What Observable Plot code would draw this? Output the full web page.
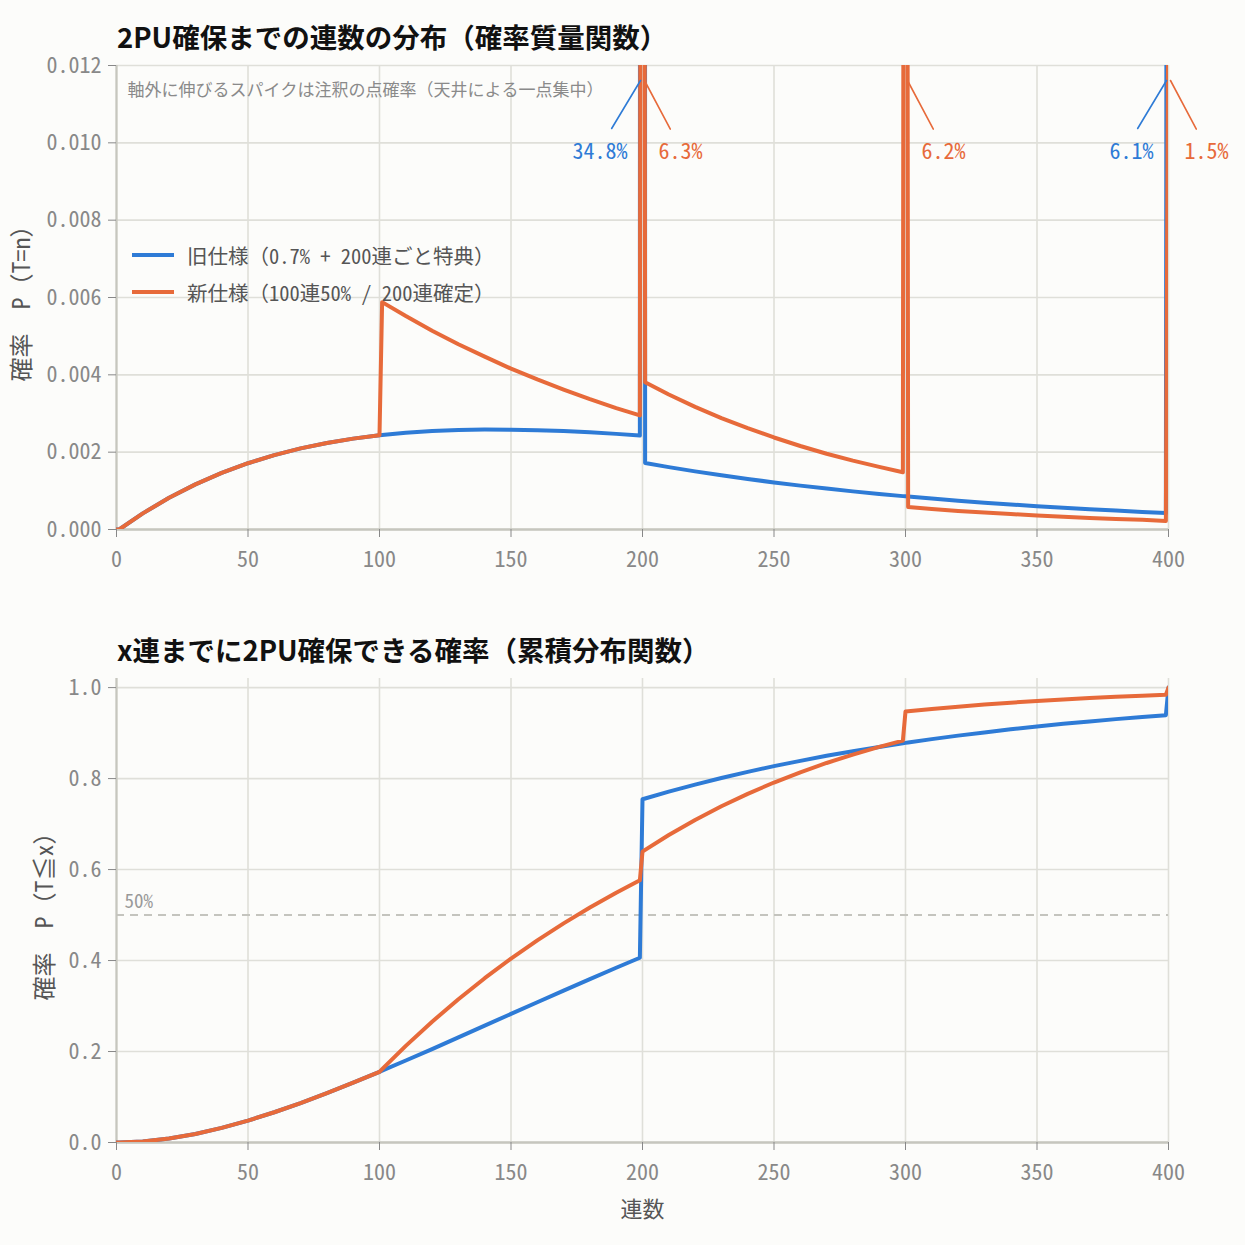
<!DOCTYPE html>
<html>
<head>
<meta charset="utf-8">
<script src="https://cdn.jsdelivr.net/npm/d3@7"></script>
<script src="https://cdn.jsdelivr.net/npm/@observablehq/plot@0.6"></script>
<style>
  html, body { margin: 0; padding: 0; background: #fcfcfa; }
  #root { position: relative; width: 1245px; height: 1245px; background: #fcfcfa; overflow: hidden; }
  .title { position: absolute; left: 117px; font-family: "Noto Sans CJK JP", sans-serif; font-weight: 700; font-size: 27.5px; line-height: 34px; color: #111; white-space: nowrap; }
  .chart { position: absolute; left: 0; }
  #legend { position: absolute; left: 132px; top: 236px; font-family: "Noto Sans Mono CJK JP", "DejaVu Sans Mono", "Noto Sans CJK JP", monospace; font-size: 20.5px; color: #555; }
  #legend .row { display: flex; align-items: center; height: 37px; white-space: nowrap; }
  #legend .sw { display: inline-block; width: 42px; height: 4px; margin-right: 13px; }
</style>
</head>
<body>
<div id="root">
  <div class="title" style="top:19px">2PU確保までの連数の分布（確率質量関数）</div>
  <div id="pmf" class="chart" style="top:0px"></div>
  <div id="legend"></div>
  <div class="title" style="top:632px">x連までに2PU確保できる確率（累積分布関数）</div>
  <div id="cdf" class="chart" style="top:600px"></div>
</div>
<script>
// ---- data ----
const seriesNames = ["旧仕様（0.7% + 200連ごと特典）", "新仕様（100連50% / 200連確定）"];
const seriesColors = ["#2e7bd6", "#e76a3a"];
const xTicks = [0, 50, 100, 150, 200, 250, 300, 350, 400];
const yTicksPMF = [0, 0.002, 0.004, 0.006, 0.008, 0.010, 0.012];
const yTicksCDF = [0, 0.2, 0.4, 0.6, 0.8, 1.0];

const pulls = [0, 1, 10, 20, 30, 40, 50, 60, 70, 80, 90, 100, 101, 110, 120, 130, 140, 150, 160, 170, 180, 190, 199, 200, 201, 210, 220, 230, 240, 250, 260, 270, 280, 290, 299, 300, 301, 310, 320, 330, 340, 350, 360, 370, 380, 390, 399, 400];

const oldPMF = [0, 0, 0.000417, 0.000820, 0.001167, 0.001463, 0.001714, 0.001924, 0.002097, 0.002238, 0.002350, 0.002437, 0.002444, 0.002501, 0.002545, 0.002572, 0.002583, 0.002582, 0.002568, 0.002545, 0.002512, 0.002473, 0.002431, 0.348, 0.001718, 0.001613, 0.001503, 0.001401, 0.001306, 0.001217, 0.001135, 0.001058, 0.000986, 0.000919, 0.000863, 0.000857, 0.000851, 0.000799, 0.000745, 0.000694, 0.000647, 0.000603, 0.000562, 0.000524, 0.000489, 0.000455, 0.000428, 0.0606];

const newPMF = [0, 0, 0.000417, 0.000820, 0.001167, 0.001463, 0.001714, 0.001924, 0.002097, 0.002238, 0.002350, 0.002437, 0.00588, 0.00552, 0.00514, 0.00479, 0.00447, 0.00416, 0.00388, 0.00362, 0.00337, 0.00314, 0.00295, 0.063, 0.00381, 0.00349, 0.00317, 0.00288, 0.00262, 0.00238, 0.00216, 0.00196, 0.00178, 0.00162, 0.00148, 0.062, 0.00058, 0.00053, 0.00048, 0.00044, 0.00040, 0.00036, 0.00033, 0.00030, 0.00027, 0.00025, 0.00022, 0.015];

const oldCDF = [0, 0, 0.0021, 0.0086, 0.0187, 0.0321, 0.0482, 0.0665, 0.0867, 0.1084, 0.1314, 0.1554, 0.1578, 0.1802, 0.2054, 0.2311, 0.2569, 0.2827, 0.3084, 0.3340, 0.3593, 0.3842, 0.4062, 0.7546, 0.7563, 0.7713, 0.7868, 0.8013, 0.8148, 0.8273, 0.8390, 0.8500, 0.8601, 0.8696, 0.8776, 0.8785, 0.8793, 0.8867, 0.8944, 0.9015, 0.9082, 0.9144, 0.9203, 0.9257, 0.9307, 0.9354, 0.9394, 1.0];

const newCDF = [0, 0, 0.0021, 0.0086, 0.0187, 0.0321, 0.0482, 0.0665, 0.0867, 0.1084, 0.1314, 0.1554, 0.1613, 0.2124, 0.2655, 0.3150, 0.3612, 0.4042, 0.4443, 0.4817, 0.5165, 0.5490, 0.5764, 0.6394, 0.6432, 0.6759, 0.7090, 0.7391, 0.7665, 0.7913, 0.8138, 0.8343, 0.8528, 0.8697, 0.8835, 0.9475, 0.9481, 0.9531, 0.9581, 0.9626, 0.9668, 0.9705, 0.9738, 0.9769, 0.9797, 0.9822, 0.9842, 1.0];

const spikeN = [200, 200, 300, 400, 400];
const spikeSeries = [0, 1, 1, 0, 1];
const spikeLabel = ["34.8%", "6.3%", "6.2%", "6.1%", "1.5%"];

const halfLine = [0.5];
const halfLabel = "50%";
const noteText = "軸外に伸びるスパイクは注釈の点確率（天井による一点集中）";
const yLabelPMF = "確率　P（T=n）";
const yLabelCDF = "確率　P（T≦x）";
const xLabel = "連数";

// ---- tables ----
const rows = (vals) => pulls.map((n, i) => ({n, v: vals[i]}));
const spikes = spikeN.map((n, i) => ({n, s: spikeSeries[i], label: spikeLabel[i]}));

const FONT = "'Noto Sans Mono CJK JP', 'DejaVu Sans Mono', 'Noto Sans CJK JP', monospace";
const GRID = "#dfdfd9";
const AXIS = "#c6c6be";
const TICK = "#888";
const FS = 22;
const leaderShape = {draw(context, l) { context.moveTo(0, 0); context.lineTo(0, -l); }};

function baseMarks(yTicks, fmt) {
  return [
    Plot.gridX(xTicks, {stroke: GRID, strokeOpacity: 1, strokeWidth: 1.6}),
    Plot.gridY(yTicks, {stroke: GRID, strokeOpacity: 1, strokeWidth: 1.6}),
    Plot.ruleX([0], {stroke: AXIS, strokeWidth: 2.2}),
    Plot.ruleY([0], {stroke: AXIS, strokeWidth: 2.6}),
    Plot.axisX({ticks: xTicks, tickSize: 8, tickPadding: 14, label: null, color: TICK, fontSize: FS}),
    Plot.axisY({ticks: yTicks, tickSize: 8, tickPadding: 7, tickFormat: fmt, label: null, color: TICK, fontSize: FS})
  ];
}

const pmf = Plot.plot({
  width: 1245, height: 590,
  marginTop: 65, marginBottom: 61, marginLeft: 116, marginRight: 77,
  x: {domain: [0, 400]},
  y: {domain: [0, 0.012]},
  style: {background: "transparent", fontFamily: FONT, fontSize: FS + "px", color: TICK, overflow: "visible"},
  marks: [
    ...baseMarks(yTicksPMF, d3.format(".3f")),
    Plot.line(rows(oldPMF), {x: "n", y: "v", stroke: seriesColors[0], strokeWidth: 4, clip: true}),
    Plot.line(rows(newPMF), {x: "n", y: "v", stroke: seriesColors[1], strokeWidth: 4, clip: true}),
    Plot.vector(spikes.filter(d => d.s === 0), {x: "n", frameAnchor: "top", dx: -2, dy: 15, length: 56, rotate: 211, anchor: "start", shape: leaderShape, stroke: seriesColors[0], fill: "none", strokeWidth: 1.6}),
    Plot.vector(spikes.filter(d => d.s === 1), {x: "n", frameAnchor: "top", dx: 2, dy: 15, length: 55, rotate: 152, anchor: "start", shape: leaderShape, stroke: seriesColors[1], fill: "none", strokeWidth: 1.6}),
    Plot.text(spikes.filter(d => d.s === 0), {x: "n", text: "label", frameAnchor: "top", dy: 78, dx: -15, textAnchor: "end", fill: seriesColors[0], fontSize: FS}),
    Plot.text(spikes.filter(d => d.s === 1), {x: "n", text: "label", frameAnchor: "top", dy: 78, dx: 16, textAnchor: "start", fill: seriesColors[1], fontSize: FS}),
    Plot.text([noteText], {text: d => d, frameAnchor: "top-left", dx: 11, dy: 18, textAnchor: "start", fill: "#8a8a8a", fontSize: 17}),
    Plot.text([yLabelPMF], {text: d => d, frameAnchor: "left", dx: -94, rotate: -90, textAnchor: "middle", fill: "#555", fontSize: 24})
  ]
});
document.getElementById("pmf").appendChild(pmf);

const cdf = Plot.plot({
  width: 1245, height: 645,
  marginTop: 78, marginBottom: 103, marginLeft: 116, marginRight: 77,
  x: {domain: [0, 400]},
  y: {domain: [0, 1.02]},
  style: {background: "transparent", fontFamily: FONT, fontSize: FS + "px", color: TICK, overflow: "visible"},
  marks: [
    ...baseMarks(yTicksCDF, d3.format(".1f")),
    Plot.ruleY(halfLine, {stroke: "#c4c4be", strokeWidth: 2, strokeDasharray: "8,6"}),
    Plot.text(halfLine, {y: d => d, text: () => halfLabel, frameAnchor: "left", dx: 8, dy: -13, textAnchor: "start", fill: "#999", fontSize: 19}),
    Plot.line(rows(oldCDF), {x: "n", y: "v", stroke: seriesColors[0], strokeWidth: 4, clip: true}),
    Plot.line(rows(newCDF), {x: "n", y: "v", stroke: seriesColors[1], strokeWidth: 4, clip: true}),
    Plot.text([yLabelCDF], {text: d => d, frameAnchor: "left", dx: -71, rotate: -90, textAnchor: "middle", fill: "#555", fontSize: 24}),
    Plot.text([xLabel], {text: d => d, frameAnchor: "bottom", dy: 74, textAnchor: "middle", fill: "#555", fontSize: 22})
  ]
});
document.getElementById("cdf").appendChild(cdf);

// legend
const legend = document.getElementById("legend");
seriesNames.forEach((name, i) => {
  const row = document.createElement("div");
  row.className = "row";
  const sw = document.createElement("span");
  sw.className = "sw";
  sw.style.background = seriesColors[i];
  const label = document.createElement("span");
  label.textContent = name;
  row.appendChild(sw);
  row.appendChild(label);
  legend.appendChild(row);
});
</script>
</body>
</html>
